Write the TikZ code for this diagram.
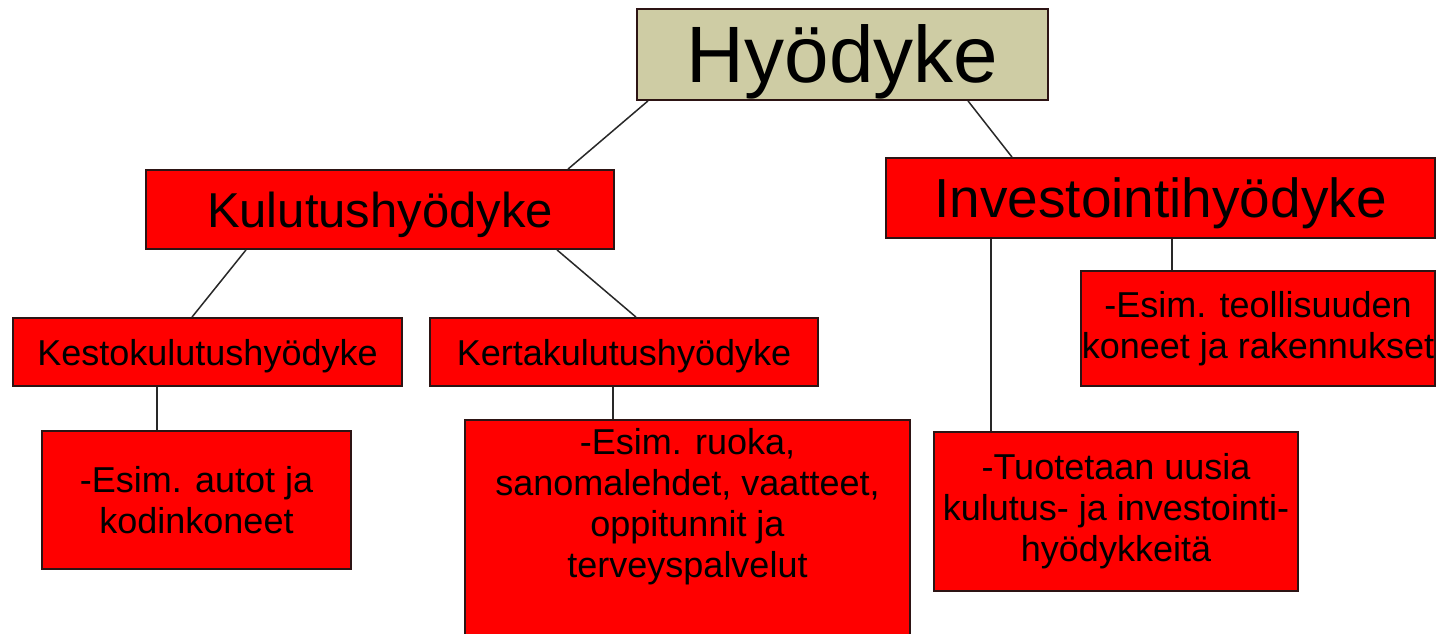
\documentclass[tikz,border=0pt]{standalone}
\usepackage{fontspec}
\setmainfont{Liberation Sans}
\definecolor{khaki}{RGB}{206,204,164}
\definecolor{boxred}{RGB}{255,0,0}
\definecolor{edgecol}{RGB}{45,20,20}
\definecolor{linkcol}{RGB}{40,40,40}
\begin{document}
\begin{tikzpicture}[x=1pt,y=-1pt,
  box/.style={draw=edgecol, line width=1.8pt, fill=boxred, inner sep=0pt, align=center, text=black},
  small/.style={font=\fontsize{36}{41}\selectfont},
  txt/.style={inner sep=0pt, align=center, text=black, font=\fontsize{36}{41}\selectfont},
  link/.style={draw=linkcol, line width=1.5pt}]
\path[use as bounding box] (0,0) rectangle (1438,634);
\clip (0,0) rectangle (1438,634);
\fill[white] (0,0) rectangle (1438,634);

% nodes
\node[box, fill=khaki, minimum width=411pt, minimum height=91pt,
      font=\fontsize{80}{90}\selectfont, text height=57pt, text depth=0pt] (hy) at (842.5,54.5) {Hyödyke};
\node[box, minimum width=468pt, minimum height=79pt,
      font=\fontsize{49}{56}\selectfont, text height=35pt, text depth=0pt] (ku) at (380,209.5) {Kulutushyödyke};
\node[box, minimum width=549pt, minimum height=80pt,
      font=\fontsize{55}{62}\selectfont, text height=39pt, text depth=0pt] (in) at (1160.5,198) {Investointihyödyke};
\node[box, small, minimum width=389pt, minimum height=68pt, text height=26pt, text depth=0pt] (ke) at (207.5,352) {Kestokulutushyödyke};
\node[box, small, minimum width=388pt, minimum height=68pt, text height=26pt, text depth=0pt] (ka) at (624,352) {Kertakulutushyödyke};
\node[box, small, minimum width=354pt, minimum height=115pt] (te) at (1258,328.5) {-Esim. teollisuuden\\koneet ja rakennukset};
\node[box, small, minimum width=309pt, minimum height=138pt] (au) at (196.5,500) {-Esim. autot ja\\kodinkoneet};
\node[box, minimum width=445pt, minimum height=230pt] (ru) at (687.5,535) {};
\node[txt] (rut) at (687.5,507) {-Esim. ruoka,\\sanomalehdet, vaatteet,\\oppitunnit ja\\terveyspalvelut};
\node[box, small, minimum width=364pt, minimum height=159pt] (tu) at (1116,511.5) {-Tuotetaan uusia\\kulutus- ja investointi-\\hyödykkeitä};

% connectors
\draw[link] (hy.south -| 648,0) -- (ku.north -| 568,0);
\draw[link] (hy.south -| 968,0) -- (in.north -| 1012,0);
\draw[link] (ku.south -| 246,0) -- (ke.north -| 192,0);
\draw[link] (ku.south -| 557,0) -- (ka.north -| 636,0);
\draw[link] (in.south -| 991,0) -- (tu.north -| 991,0);
\draw[link] (in.south -| 1172,0) -- (te.north -| 1172,0);
\draw[link] (ke.south -| 157,0) -- (au.north -| 157,0);
\draw[link] (ka.south -| 613,0) -- (ru.north -| 613,0);
\end{tikzpicture}
\end{document}
